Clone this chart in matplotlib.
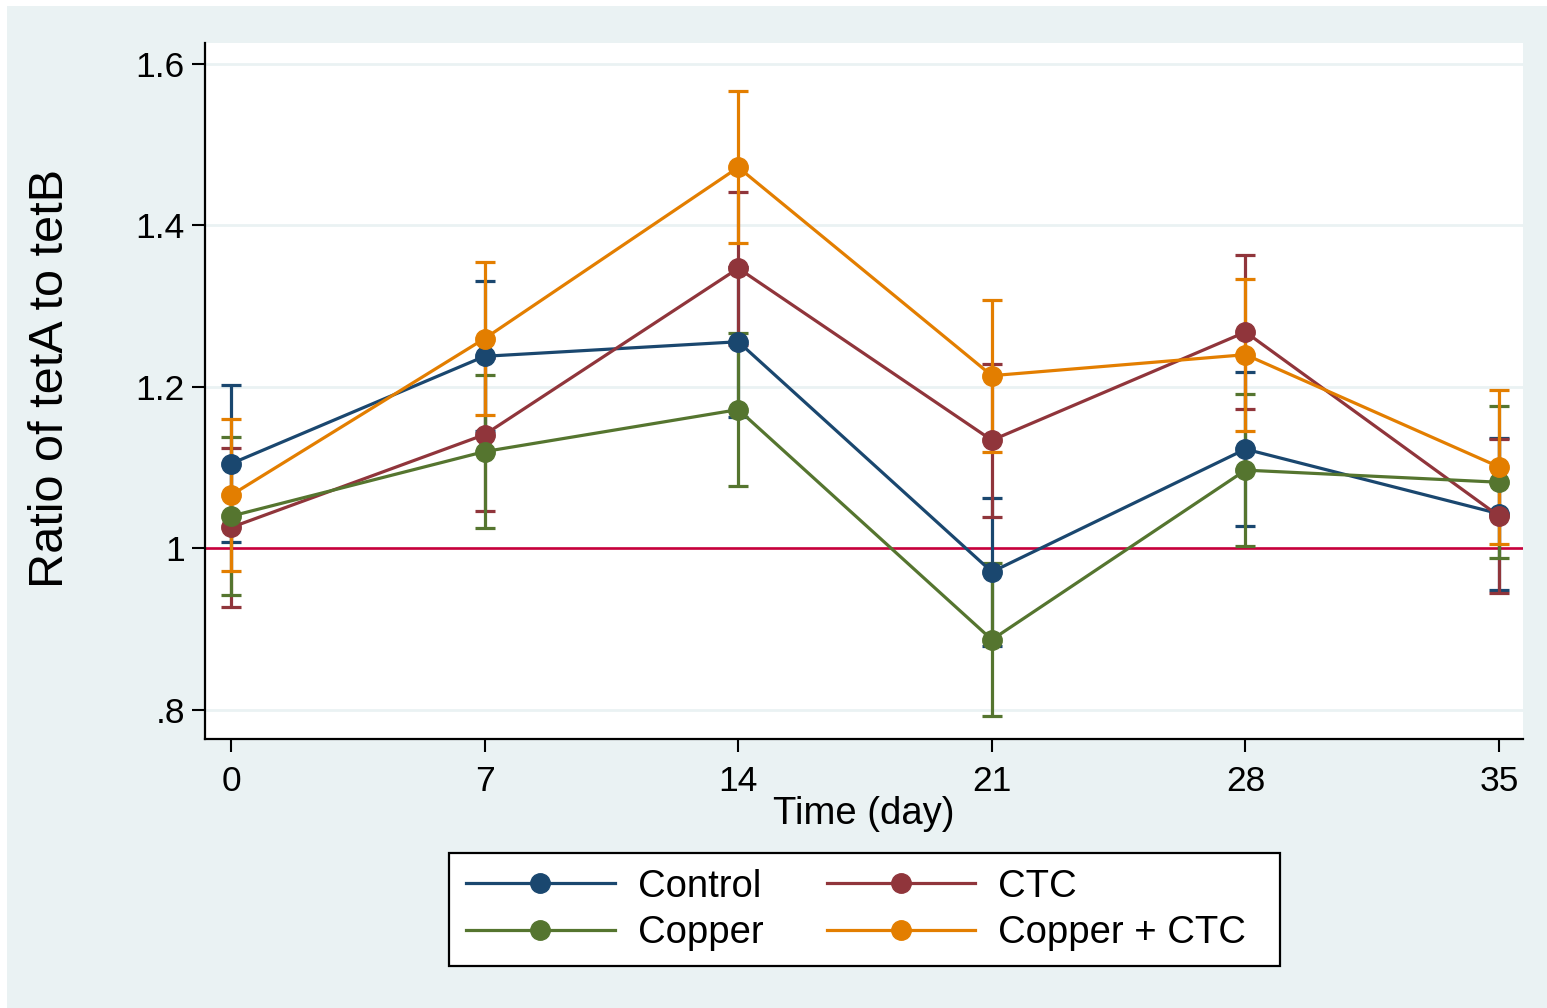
import matplotlib
matplotlib.use("Agg")
import matplotlib.pyplot as plt
from matplotlib.patches import Rectangle

plt.rcParams['font.family'] = ['Liberation Sans', 'DejaVu Sans']

days = [0, 7, 14, 21, 28, 35]

control = [1.105, 1.238, 1.256, 0.971, 1.123, 1.043]
control_err = [0.097, 0.093, 0.093, 0.092, 0.095, 0.094]
ctc = [1.026, 1.141, 1.347, 1.134, 1.268, 1.040]
ctc_err = [0.098, 0.095, 0.095, 0.095, 0.095, 0.095]
copper = [1.040, 1.120, 1.172, 0.887, 1.097, 1.082]
copper_err = [0.098, 0.095, 0.095, 0.095, 0.094, 0.094]
copper_ctc = [1.066, 1.260, 1.472, 1.214, 1.240, 1.101]
copper_ctc_err = [0.094, 0.095, 0.094, 0.094, 0.094, 0.095]

labels = ["Control", "CTC", "Copper", "Copper + CTC"]
colors = ["#1A476F", "#90353B", "#55752F", "#E37E00"]
series = [(control, control_err), (ctc, ctc_err),
          (copper, copper_err), (copper_ctc, copper_ctc_err)]

W, H = 1547, 1008
fig = plt.figure(figsize=(W / 100, H / 100), dpi=100, facecolor="white")
# light grey-blue backdrop behind everything
fig.patches.append(Rectangle((7 / W, 0), 1 - 7 / W, 1 - 6 / H,
                             transform=fig.transFigure, facecolor="#EAF2F3",
                             edgecolor="none", zorder=-10))

ax = fig.add_axes([205 / W, 1 - 739 / H, (1523 - 205) / W, (739 - 43) / H])
ax.set_facecolor("white")

# error bars first, lines and markers on top
for (vals, err), c in zip(series, colors):
    ax.errorbar(days, vals, yerr=err, fmt="none", ecolor=c, elinewidth=2.3,
                capsize=7.5, capthick=2.3, zorder=3)

handles = []
for (vals, err), c, lab in zip(series, colors, labels):
    h, = ax.plot(days, vals, color=c, lw=2.3, marker="o", markersize=14,
                 markeredgecolor=c, markerfacecolor=c, label=lab, zorder=4)
    handles.append(h)

ax.axhline(1.0, color="#C8003C", lw=1.9, zorder=2)

ax.set_xlim(-0.72, 35.66)
ax.set_ylim(0.764, 1.626)
ax.set_xticks(days)
ax.set_xticklabels([str(d) for d in days])
ax.set_yticks([0.8, 1.0, 1.2, 1.4, 1.6])
ax.set_yticklabels([".8", "1", "1.2", "1.4", "1.6"])
ax.yaxis.grid(True, color="#EAF2F3", lw=2)
ax.set_axisbelow(True)

for s in ["top", "right"]:
    ax.spines[s].set_visible(False)
for s in ["left", "bottom"]:
    ax.spines[s].set_linewidth(1.6)
    ax.spines[s].set_color("black")
ax.tick_params(axis="both", length=9.5, width=1.5, labelsize=25.5, colors="black")
ax.tick_params(axis="x", pad=9)
ax.tick_params(axis="y", pad=5)

fig.text(51 / W, 1 - 378 / H, "Ratio of tetA to tetB", rotation=90,
         ha="center", va="center", fontsize=35)
fig.text(864 / W, 1 - 814 / H, "Time (day)", ha="center", va="center",
         fontsize=27.5)

# legend box drawn on its own so the padding matches
fig.patches.append(Rectangle((449 / W, 1 - 966 / H), (1280 - 449) / W,
                             (966 - 853) / H, transform=fig.transFigure,
                             facecolor="white", edgecolor="black", lw=1.6,
                             zorder=1))

# legend fills by column, so this gives Control/CTC on the first row
order = [0, 2, 1, 3]
leg = fig.legend([handles[i] for i in order], [labels[i] for i in order],
                 loc="center left", bbox_to_anchor=(466 / W, 1 - 910 / H),
                 bbox_transform=fig.transFigure, ncol=2, fontsize=27.5,
                 handlelength=3.9, handletextpad=0.6, columnspacing=1.65,
                 labelspacing=0.27, borderpad=0, borderaxespad=0,
                 frameon=False)
leg.set_zorder(2)

fig.savefig("out.png", dpi=100, facecolor=fig.get_facecolor())
